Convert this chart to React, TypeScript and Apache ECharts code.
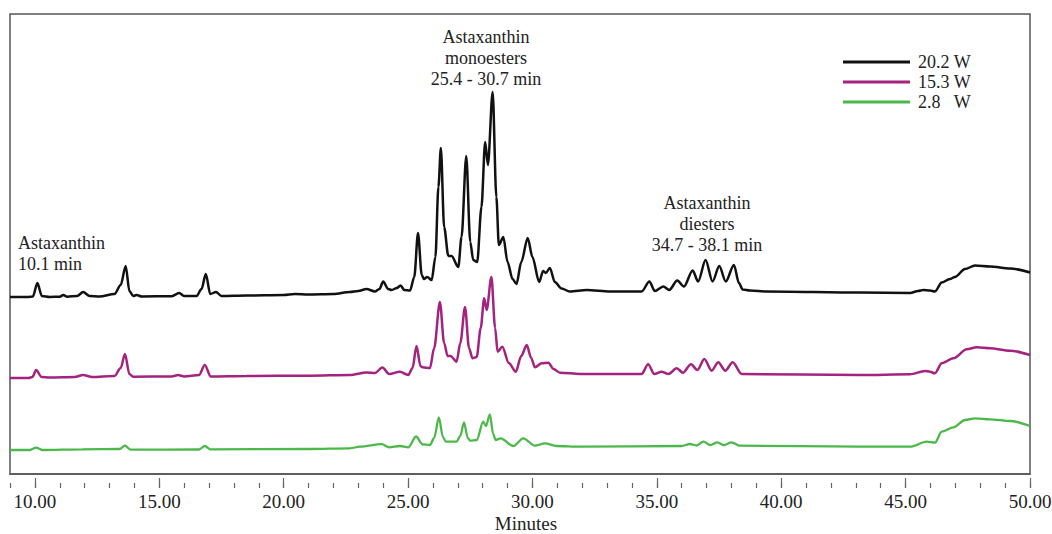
import React, { useEffect, useRef } from "react";
import * as echarts from "echarts";

// Retention-time window (minutes)
const X_MIN = 9;
const X_MAX = 50;

// Labelled (long) ticks on the time axis
const majorTicks = [10, 15, 20, 25, 30, 35, 40, 45, 50];

// Legend names: extraction power
const powerLabels = ["20.2 W", "15.3 W", "2.8   W"];
const traceColors = ["#111111", "#a3237f", "#4cb84a"];
// Vertical stacking offsets of the three chromograms
const traceOffsets = [177, 96, 24];

// Detector response [minutes, signal] — 20.2 W
const trace202: [number, number][] = [
  [9.0, 0], [9.7, 0], [9.92, 0.5], [10.1, 14], [10.28, 1], [10.6, 0], [11.0, 0.3], [11.14, 2], [11.3, 0.3],
  [11.7, 1], [11.94, 5], [12.2, 1], [12.6, 0.5], [13.2, 3], [13.45, 12], [13.65, 31], [13.8, 6], [13.95, 1],
  [14.09, 2], [14.3, 0.5], [15.5, 0.8], [15.8, 4], [16.0, 1], [16.5, 1], [16.7, 8], [16.87, 23], [17.05, 3],
  [17.28, 5], [17.5, 1], [18.5, 1.5], [20.0, 2], [20.45, 3], [21.0, 2.5], [22.0, 3], [22.66, 5], [23.0, 6],
  [23.33, 8], [23.67, 5.5], [23.85, 8], [24.0, 15.5], [24.2, 8], [24.34, 7], [24.55, 9], [24.7, 11.5],
  [24.85, 7], [25.08, 6.5], [25.25, 20], [25.4, 64], [25.55, 22], [25.64, 18], [25.77, 20], [25.95, 17],
  [26.1, 40], [26.22, 110], [26.32, 149], [26.45, 70], [26.62, 41], [26.75, 41], [27.02, 30], [27.15, 60],
  [27.34, 141], [27.5, 55], [27.62, 37], [27.78, 35], [27.95, 90], [28.1, 155], [28.21, 132], [28.4, 205],
  [28.55, 100], [28.65, 52], [28.83, 60], [29.0, 35], [29.2, 18], [29.36, 13], [29.55, 35], [29.81, 59],
  [30.0, 40], [30.27, 15], [30.43, 26], [30.54, 24], [30.7, 29], [30.9, 15], [31.17, 8.5], [31.5, 5.5],
  [32.18, 7], [33.12, 5.5], [34.39, 5.5], [34.7, 15.5], [34.92, 6], [35.26, 10.5], [35.5, 7], [35.82, 16.5],
  [36.09, 10.5], [36.44, 26.5], [36.66, 15.5], [36.96, 37], [37.24, 15.5], [37.51, 31], [37.77, 15.5],
  [38.1, 32], [38.3, 14], [38.45, 7.5], [38.74, 6.5], [39.41, 5.5], [43.17, 4.5], [45.18, 4], [45.5, 6],
  [45.71, 7], [45.98, 6.5], [46.18, 5.5], [46.45, 14.5], [46.78, 18], [46.98, 20], [47.39, 28], [47.79, 31.5],
  [48.39, 30.5], [49.2, 28.5], [50.0, 24.5],
];

// Detector response [minutes, signal] — 15.3 W
const trace153: [number, number][] = [
  [9.0, 0], [9.75, 0], [9.9, 1], [10.05, 8], [10.27, 1], [10.6, 0.5], [11.6, 1], [11.94, 3], [12.3, 1],
  [13.2, 2], [13.45, 10], [13.62, 24], [13.8, 4], [13.95, 1.3], [15.5, 1.5], [15.76, 3], [16.0, 1.5],
  [16.6, 3], [16.83, 13], [17.07, 1.5], [18.5, 2], [21.05, 2.3], [22.66, 3], [23.33, 5.5], [23.67, 5],
  [23.97, 10.5], [24.24, 4], [24.67, 6.3], [25.01, 3], [25.18, 10], [25.34, 32], [25.5, 12], [25.58, 10.7],
  [25.88, 10], [26.05, 30], [26.28, 76], [26.45, 35], [26.59, 22], [26.71, 22], [26.95, 16.3], [27.1, 35],
  [27.29, 71], [27.45, 30], [27.59, 19.7], [27.76, 21], [27.92, 50], [28.06, 79.7], [28.16, 68], [28.35, 101],
  [28.5, 50], [28.6, 26.3], [28.79, 31.3], [29.05, 15], [29.33, 6.3], [29.55, 22], [29.77, 33], [29.95, 20],
  [30.1, 10.7], [30.37, 14.7], [30.64, 15.3], [30.85, 9], [31.11, 5.3], [31.91, 4], [34.39, 4], [34.65, 13.7],
  [34.9, 4], [35.19, 6.3], [35.47, 4], [35.8, 9.7], [36.05, 5.3], [36.37, 13.7], [36.63, 8], [36.91, 19],
  [37.2, 7.3], [37.47, 15.7], [37.75, 7.3], [38.05, 15.7], [38.41, 4], [43.17, 3], [45.18, 3.7], [45.78, 7],
  [45.98, 6.3], [46.18, 4.7], [46.45, 14.7], [46.92, 19.7], [47.46, 28.7], [47.86, 30.7], [48.39, 29.7],
  [49.2, 27.3], [50.0, 23],
];

// Detector response [minutes, signal] — 2.8 W
const trace28: [number, number][] = [
  [9.0, 0], [9.8, 0], [10.05, 2.3], [10.3, 0], [11.9, 0.7], [13.4, 1], [13.62, 4.3], [13.85, 0.3],
  [16.6, 0.5], [16.83, 4], [17.05, 0.7], [21.05, 1], [22.66, 1.7], [23.07, 3.3], [23.94, 5.8], [24.24, 2.7],
  [24.67, 4], [25.01, 2.7], [25.32, 13.5], [25.58, 5.7], [25.88, 5], [26.05, 12], [26.24, 32.7], [26.4, 13],
  [26.52, 8.3], [26.95, 8.3], [27.1, 14], [27.25, 27.7], [27.4, 12], [27.5, 9.3], [27.76, 10], [28.02, 28.3],
  [28.13, 24], [28.29, 35.7], [28.42, 16], [28.52, 10], [28.72, 11.7], [29.23, 4], [29.63, 11.7], [30.1, 4.3],
  [30.5, 6.7], [30.97, 4], [31.91, 3.3], [36.0, 4], [36.33, 6], [36.6, 4.5], [36.87, 8.3], [37.15, 5],
  [37.43, 7.7], [37.7, 5], [38.0, 7.7], [38.34, 4.3], [43.17, 3.3], [45.18, 3.3], [45.85, 8.3], [46.18, 7.3],
  [46.45, 18.3], [46.92, 22.7], [47.39, 30], [47.79, 31.7], [48.39, 30.7], [49.2, 29], [50.0, 24],
];

const traces = [trace202, trace153, trace28];

const SERIF = '"Liberation Serif", "Times New Roman", serif';
const TEXT_COLOR = "#222";
const TICK_COLOR = "#666";

export default function App() {
  const ref = useRef<HTMLDivElement>(null);

  useEffect(() => {
    if (!ref.current) return;
    const chart = echarts.init(ref.current, undefined, { renderer: "svg" });

    const plotLeft = 10;
    const plotRight = 22;
    const plotTop = 14;
    const plotBottom = 60;
    // tick scale sits a little below the frame's bottom edge
    const tickGap = 14;

    const tickGrid = {
      left: plotLeft,
      right: plotRight,
      top: plotTop,
      bottom: plotBottom - tickGap,
      outerBoundsMode: "none",
    };

    chart.setOption({
      animation: false,
      backgroundColor: "#fff",
      textStyle: { fontFamily: SERIF },
      grid: [
        {
          left: plotLeft,
          right: plotRight,
          top: plotTop,
          bottom: plotBottom,
          outerBoundsMode: "none",
          show: true,
          borderColor: "#555",
          borderWidth: 1.5,
          backgroundColor: "transparent",
        },
        tickGrid,
        { ...tickGrid },
      ],
      xAxis: [
        {
          type: "value",
          gridIndex: 0,
          min: X_MIN,
          max: X_MAX,
          axisLine: { show: true, lineStyle: { color: "#555", width: 1.5 } },
          axisTick: { show: false },
          axisLabel: { show: false },
          splitLine: { show: false },
          name: "Minutes",
          nameLocation: "middle",
          nameGap: 40,
          nameTextStyle: {
            fontFamily: SERIF,
            fontSize: 19,
            lineHeight: 19,
            color: TEXT_COLOR,
            padding: [0, 0, 0, 12],
          },
        },
        {
          // one short tick per minute
          type: "value",
          gridIndex: 1,
          min: X_MIN,
          max: X_MAX,
          interval: 1,
          axisLine: { show: false },
          axisTick: { show: true, inside: true, length: 5, lineStyle: { color: TICK_COLOR, width: 1.2 } },
          axisLabel: { show: false },
          splitLine: { show: false },
        },
        {
          // long, labelled ticks every five minutes
          type: "value",
          gridIndex: 2,
          min: X_MIN,
          max: X_MAX,
          axisLine: { show: false },
          axisTick: {
            show: true,
            inside: true,
            length: 10,
            customValues: majorTicks,
            lineStyle: { color: TICK_COLOR, width: 1.2 },
          },
          axisLabel: {
            margin: 4,
            fontFamily: SERIF,
            fontSize: 19,
            color: TEXT_COLOR,
            customValues: majorTicks,
            formatter: (v: number) => v.toFixed(2),
          },
          splitLine: { show: false },
        },
      ],
      yAxis: [
        { type: "value", gridIndex: 0, min: 0, max: 460, show: false, splitLine: { show: false } },
        { type: "value", gridIndex: 1, min: 0, max: 1, show: false, splitLine: { show: false } },
        { type: "value", gridIndex: 2, min: 0, max: 1, show: false, splitLine: { show: false } },
      ],
      legend: {
        orient: "vertical",
        left: 838,
        top: 47,
        itemWidth: 67,
        itemHeight: 3,
        itemGap: 0,
        icon: "rect",
        data: powerLabels,
        textStyle: {
          fontFamily: SERIF,
          fontSize: 18,
          color: TEXT_COLOR,
          lineHeight: 20,
          padding: [0, 0, 0, 3],
        },
      },
      series: traces.map((trace, i) => ({
        name: powerLabels[i],
        type: "line",
        xAxisIndex: 0,
        yAxisIndex: 0,
        data: trace.map(([t, v]) => [t, v + traceOffsets[i]]),
        showSymbol: false,
        symbol: "none",
        smooth: 0.3,
        smoothMonotone: "x",
        lineStyle: { color: traceColors[i], width: i === 2 ? 2.3 : 2.5 },
        itemStyle: { color: traceColors[i] },
        z: 3 - i,
      })),
      graphic: [
        {
          type: "text",
          x: 18,
          y: 232,
          style: {
            text: "Astaxanthin\n10.1 min",
            font: `18px ${SERIF}`,
            fill: TEXT_COLOR,
            lineHeight: 21,
          },
        },
        {
          type: "text",
          x: 486,
          y: 26,
          style: {
            text: "Astaxanthin\nmonoesters\n25.4 - 30.7 min",
            font: `18px ${SERIF}`,
            fill: TEXT_COLOR,
            lineHeight: 21,
            align: "center",
          },
        },
        {
          type: "text",
          x: 707,
          y: 192,
          style: {
            text: "Astaxanthin\ndiesters\n34.7 - 38.1 min",
            font: `18px ${SERIF}`,
            fill: TEXT_COLOR,
            lineHeight: 21,
            align: "center",
          },
        },
      ],
    });

    return () => chart.dispose();
  }, []);

  return (
    <div
      ref={ref}
      style={{ position: "fixed", left: 0, top: 0, width: 1052, height: 534, background: "#fff" }}
    />
  );
}
